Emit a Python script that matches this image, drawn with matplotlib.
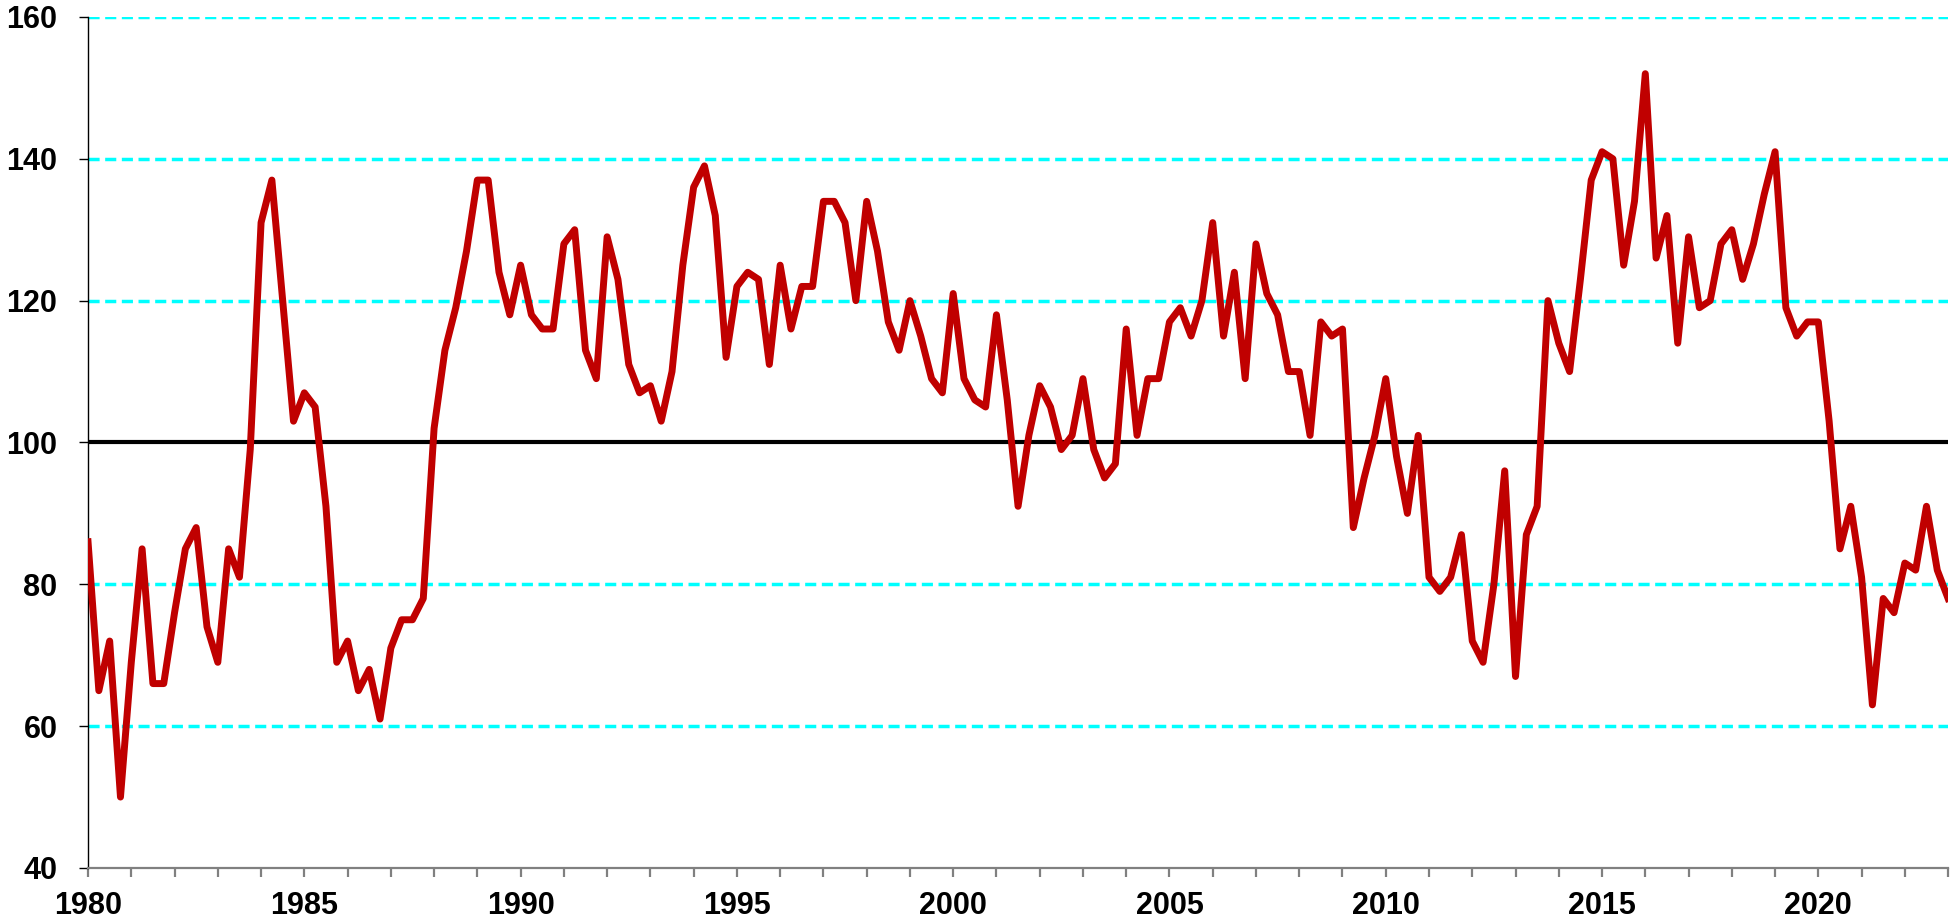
import matplotlib.pyplot as plt
import numpy as np

plt.rcParams['font.family'] = ['Liberation Sans', 'DejaVu Sans']

# quarterly index, 1980Q1 .. 2023Q1
start_year = 1980
values = [86, 65, 72, 50, 69, 85, 66, 66, 76, 85, 88, 74, 69, 85, 81, 99,
          131, 137, 120, 103, 107, 105, 91, 69, 72, 65, 68, 61, 71, 75, 75, 78,
          102, 113, 119, 127, 137, 137, 124, 118, 125, 118, 116, 116, 128, 130, 113, 109,
          129, 123, 111, 107, 108, 103, 110, 125, 136, 139, 132, 112, 122, 124, 123, 111,
          125, 116, 122, 122, 134, 134, 131, 120, 134, 127, 117, 113, 120, 115, 109, 107,
          121, 109, 106, 105, 118, 106, 91, 101, 108, 105, 99, 101, 109, 99, 95, 97,
          116, 101, 109, 109, 117, 119, 115, 120, 131, 115, 124, 109, 128, 121, 118, 110,
          110, 101, 117, 115, 116, 88, 95, 101, 109, 98, 90, 101, 81, 79, 81, 87,
          72, 69, 80, 96, 67, 87, 91, 120, 114, 110, 123, 137, 141, 140, 125, 134,
          152, 126, 132, 114, 129, 119, 120, 128, 130, 123, 128, 135, 141, 119, 115, 117,
          117, 103, 85, 91, 81, 63, 78, 76, 83, 82, 91, 82, 78]
baseline = 100
y_ticks = [40, 60, 80, 100, 120, 140, 160]
grid_levels = [60, 80, 120, 140, 160]
x_labels = [1980, 1985, 1990, 1995, 2000, 2005, 2010, 2015, 2020]

x = start_year + np.arange(len(values)) / 4.0

fig = plt.figure(figsize=(19.52, 9.22), dpi=100)
ax = fig.add_axes([0.0451, 0.0586, 0.9529, 0.923])

# dashed cyan grid lines
for g in grid_levels:
    ax.axhline(g, color='#00FFFF', lw=2.5, dashes=(3.2, 1.6), zorder=1)
ax.axhline(baseline, color='black', lw=3.0, zorder=2)

ax.plot(x, values, color='#C00000', lw=5.0, solid_joinstyle='round', zorder=3)

ax.set_xlim(1980, 2023)
ax.set_ylim(40, 160)
ax.set_yticks(y_ticks)
ax.set_xticks(x_labels)
ax.set_xticks(np.arange(1980, 2024), minor=True)

ax.spines['top'].set_visible(False)
ax.spines['right'].set_visible(False)
ax.spines['left'].set_color('black')
ax.spines['left'].set_linewidth(1.0)
ax.spines['bottom'].set_color('#808080')
ax.spines['bottom'].set_linewidth(1.6)

ax.tick_params(axis='y', direction='out', length=6.5, width=1.0, color='black',
               labelsize=22, pad=15.5)
ax.tick_params(axis='x', which='both', direction='out', length=6.5, width=1.6,
               color='#808080', labelsize=22, pad=10)
for lab in ax.get_xticklabels() + ax.get_yticklabels():
    lab.set_fontweight('bold')

fig.savefig('out.png', dpi=100)
